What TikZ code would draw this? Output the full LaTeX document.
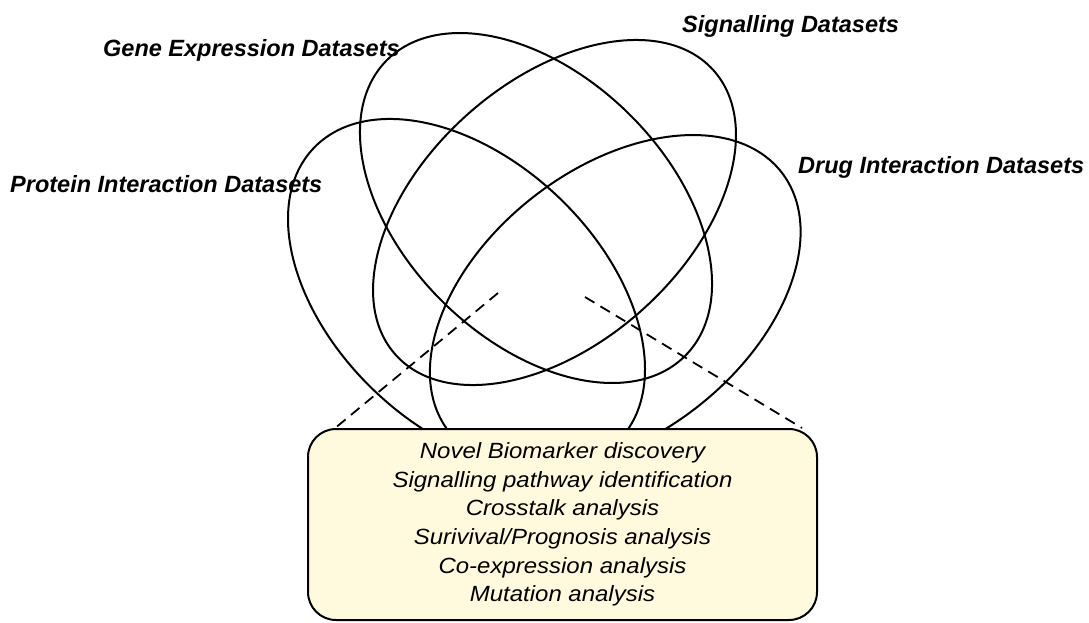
\documentclass[tikz,border=0pt]{standalone}
\usepackage{fontspec}
\setmainfont{Liberation Sans}
\newfontfamily\boxfont[FakeStretch=1.09]{Liberation Sans}
\definecolor{boxfill}{RGB}{255,250,221}
\begin{document}
\begin{tikzpicture}[x=1pt,y=-1pt,
  setline/.style={line width=2pt},
  setlabel/.style={font=\fontsize{23.5pt}{28pt}\selectfont\bfseries\itshape,
    anchor=base west, inner sep=0pt},
  resultbox/.style={draw, line width=2pt, rounded corners=28pt, fill=boxfill,
    minimum width=509pt, minimum height=191pt, inner sep=0pt, align=center,
    font=\boxfont\itshape\fontsize{22pt}{28.7pt}\selectfont},
  pointer/.style={line width=1.8pt, dash pattern=on 11pt off 7pt}]
\useasboundingbox (0,0) rectangle (1089,622);

% the four data sets
\draw[setline, rotate around={-44.6:(536,208)}]
  (536,208) ellipse [x radius=210pt, y radius=132.3pt];       % gene expression
\draw[setline, rotate around={41.8:(554.5,212.5)}]
  (554.5,212.5) ellipse [x radius=213.3pt, y radius=131.1pt]; % signalling
\draw[setline, rotate around={-43.7:(466.5,294)}]
  (466.5,294) ellipse [x radius=211.3pt, y radius=133.6pt];   % protein interaction
\draw[setline, rotate around={38:(615.25,302)}]
  (615.25,302) ellipse [x radius=210.9pt, y radius=133.2pt];  % drug interaction

% set labels
\node[setlabel] (gene) at (103,56) {Gene Expression Datasets};
\node[setlabel] (sig) at (682,32) {Signalling Datasets};
\node[setlabel] (prot) at (10,192) {Protein Interaction Datasets};
\node[setlabel] (drug) at (798,173) {Drug Interaction Datasets};

% zoom lines from the intersection down to the outcomes
\coordinate (zl) at (498,293);
\coordinate (zr) at (585,297);
\coordinate (bl) at (334,429);
\coordinate (br) at (802,428);
\draw[pointer] (zl) -- (bl);
\draw[pointer] (zr) -- (br);

% outcomes of the integration
\node[resultbox] (res) at (562.5,524.5) {Novel Biomarker discovery\\
  Signalling pathway identification\\
  Crosstalk analysis\\
  Surivival/Prognosis analysis\\
  Co-expression analysis\\
  Mutation analysis};
\end{tikzpicture}
\end{document}
